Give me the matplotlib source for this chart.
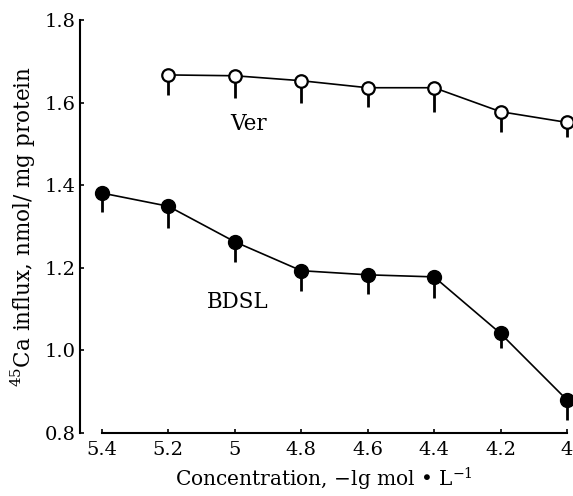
import matplotlib
matplotlib.use("Agg")
import matplotlib.pyplot as plt

conc = [5.4, 5.2, 5.0, 4.8, 4.6, 4.4, 4.2, 4.0]
x_labels = ["5.4", "5.2", "5", "4.8", "4.6", "4.4", "4.2", "4"]
bdsl = [1.381, 1.349, 1.263, 1.193, 1.183, 1.178, 1.041, 0.880]
bdsl_err = [0.046, 0.053, 0.048, 0.050, 0.046, 0.050, 0.036, 0.048]
ver_conc = [5.2, 5.0, 4.8, 4.6, 4.4, 4.2, 4.0]
ver = [1.667, 1.665, 1.653, 1.636, 1.636, 1.578, 1.552]
ver_err = [0.048, 0.053, 0.053, 0.046, 0.058, 0.048, 0.036]
y_ticks = [0.8, 1.0, 1.2, 1.4, 1.6, 1.8]
y_labels = ["0.8", "1.0", "1.2", "1.4", "1.6", "1.8"]

plt.rcParams['font.family'] = ['DejaVu Serif']
plt.rcParams['mathtext.fontset'] = 'dejavuserif'

fig = plt.figure(figsize=(5.73, 4.96), dpi=100)
ax = fig.add_axes([80/573, 1-433/496, 487/573, 413/496])

eb1 = ax.errorbar(conc, bdsl, yerr=[bdsl_err, [0]*len(bdsl_err)], fmt='none',
                  ecolor='black', elinewidth=2.0, capsize=0, zorder=2)
ax.plot(conc, bdsl, '-', color='black', lw=1.2, marker='o', ms=10,
        mfc='black', mec='black', zorder=3, clip_on=False)

eb2 = ax.errorbar(ver_conc, ver, yerr=[ver_err, [0]*len(ver_err)], fmt='none',
                  ecolor='black', elinewidth=2.0, capsize=0, zorder=2)
ax.plot(ver_conc, ver, '-', color='black', lw=1.2, marker='o', ms=9,
        mfc='white', mec='black', mew=1.6, zorder=3, clip_on=False)

for eb in (eb1, eb2):
    for coll in eb.lines[2]:
        coll.set_clip_on(False)

ax.text(4.96, 1.547, "Ver", fontsize=15.5, ha='center', va='center')
ax.text(4.99, 1.118, "BDSL", fontsize=15.5, ha='center', va='center')

ax.set_xlim(5.466, 4.0)
ax.set_ylim(0.8, 1.8)
ax.set_xticks(conc)
ax.set_xticklabels(x_labels)
ax.set_yticks(y_ticks)
ax.set_yticklabels(y_labels)

for s in ['top', 'right']:
    ax.spines[s].set_visible(False)
ax.spines['bottom'].set_bounds(5.4, 4.0)
ax.spines['left'].set_linewidth(1.5)
ax.spines['bottom'].set_linewidth(1.5)
ax.tick_params(direction='in', length=3, width=1.2, labelsize=14)
ax.tick_params(axis='x', pad=6)
ax.tick_params(axis='y', pad=3)

ax.set_xlabel("Concentration, $-$lg mol \u2022 L$^{-1}$", fontsize=14.5, labelpad=5)
ax.set_ylabel("$^{45}$Ca influx, nmol/ mg protein", fontsize=15.5, labelpad=5)

fig.savefig("out.png", dpi=100)
